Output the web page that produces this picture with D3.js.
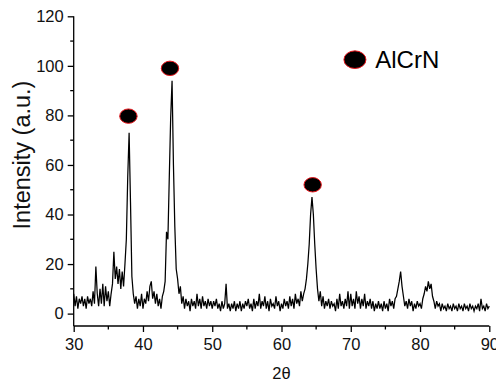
<!DOCTYPE html>
<html>
<head>
<meta charset="utf-8">
<script src="https://cdn.jsdelivr.net/npm/d3@7"></script>
<style>
    html, body { margin: 0; padding: 0; background: #fff; }
    svg { display: block; font-family: "Liberation Sans", Arial, sans-serif; }
</style>
</head>
<body>
<div id="chart"></div>
<script>
// XRD scan: 2θ from 30 to 90 in 0.2° steps, intensity
const scanStart = 30;
const scanStep = 0.2;
const intensity = [
    8, 3, 7, 2, 6, 4, 7, 3, 6, 2,          // 30.0 - 31.8
    7, 4, 6, 3, 9, 4, 19, 8, 3, 10,        // 32.0 - 33.8
    4, 12, 3, 11, 5, 9, 3, 8, 12, 25,      // 34.0 - 35.8
    14, 19, 12, 18, 10, 17, 11, 20, 30, 55, // 36.0 - 37.8
    73, 45, 15, 8, 4, 7, 2, 6, 3, 8,       // 38.0 - 39.8
    2, 6, 4, 9, 5, 11, 13, 6, 9, 4,        // 40.0 - 41.8
    8, 3, 6, 2, 7, 9, 13, 33, 30, 55,      // 42.0 - 43.8
    79, 94, 60, 35, 18, 14, 8, 11, 4, 7,   // 44.0 - 45.8
    2, 6, 3, 5, 1, 6, 3, 5, 2, 8,          // 46.0 - 47.8
    3, 6, 2, 7, 3, 5, 2, 6, 3, 5,          // 48.0 - 49.8
    2, 5, 3, 6, 2, 4, 1, 5, 2, 4,          // 50.0 - 51.8
    12, 2, 4, 1, 4, 2, 5, 1, 4, 2,         // 52.0 - 53.8
    5, 1, 4, 2, 5, 3, 6, 2, 4, 1,          // 54.0 - 55.8
    6, 2, 5, 3, 8, 2, 5, 3, 7, 2,          // 56.0 - 57.8
    5, 1, 6, 3, 4, 2, 7, 3, 5, 1,          // 58.0 - 59.8
    4, 2, 6, 3, 5, 2, 7, 3, 6, 2,          // 60.0 - 61.8
    8, 4, 6, 3, 9, 5, 8, 10, 14, 20,       // 62.0 - 63.8
    28, 40, 47, 40, 28, 18, 10, 5, 9, 3,   // 64.0 - 65.8
    7, 2, 5, 3, 6, 2, 5, 3, 4, 1,          // 66.0 - 67.8
    6, 2, 8, 3, 5, 2, 6, 3, 9, 2,          // 68.0 - 69.8
    8, 3, 6, 2, 9, 4, 7, 2, 6, 3,          // 70.0 - 71.8
    8, 2, 5, 3, 6, 2, 5, 1, 4, 2,          // 72.0 - 73.8
    5, 2, 4, 1, 5, 2, 4, 1, 6, 3,          // 74.0 - 75.8
    5, 2, 6, 7, 10, 13, 17, 11, 7, 3,      // 76.0 - 77.8
    5, 2, 6, 3, 5, 1, 4, 2, 5, 3,          // 78.0 - 79.8
    4, 2, 6, 8, 11, 9, 13, 10, 12, 7,      // 80.0 - 81.8
    5, 2, 5, 3, 4, 1, 4, 2, 3, 1,          // 82.0 - 83.8
    4, 2, 3, 1, 4, 2, 3, 1, 4, 2,          // 84.0 - 85.8
    3, 1, 4, 2, 3, 1, 4, 2, 3, 1,          // 86.0 - 87.8
    3, 2, 4, 1, 6, 2, 3, 1, 4, 2,          // 88.0 - 89.8
    3                                      // 90.0
];

// AlCrN peak markers (placed just above each reflection)
const markerAngles = [37.9, 43.9, 64.5];
const markerLevels = [79.7, 99, 52];

// Legend
const legendAngle = 70.6;
const legendLevel = 102.5;
const legendLabel = 'AlCrN';

// Axis ticks
const xTicks = [30, 40, 50, 60, 70, 80, 90];
const xMinorTicks = [35, 45, 55, 65, 75, 85];
const yTicks = [0, 20, 40, 60, 80, 100, 120];
const yMinorTicks = [10, 30, 50, 70, 90, 110];

const data = intensity.map((v, i) => ({ angle: scanStart + i * scanStep, value: v }));

const width = 496;
const height = 382;
const margin = { top: 16.3, right: 6.7, bottom: 56, left: 73.7 };
const innerW = width - margin.left - margin.right;
const innerH = height - margin.top - margin.bottom;

const svg = d3.select('#chart')
    .append('svg')
    .attr('width', width)
    .attr('height', height);

const g = svg.append('g').attr('transform', `translate(${margin.left},${margin.top})`);

const xScale = d3.scaleLinear().domain([30, 90]).range([0, innerW]);
const yScale = d3.scaleLinear().domain([-5, 120]).range([innerH, 0]);

// Pattern trace
const line = d3.line()
    .x(d => xScale(d.angle))
    .y(d => yScale(d.value));

g.append('path')
    .datum(data)
    .attr('d', line)
    .attr('fill', 'none')
    .attr('stroke', '#000')
    .attr('stroke-width', 1.25)
    .attr('stroke-linejoin', 'miter');

// Peak markers
g.selectAll('ellipse.marker')
    .data(markerAngles.map((a, i) => ({ angle: a, value: markerLevels[i] })))
    .enter()
    .append('ellipse')
    .attr('class', 'marker')
    .attr('cx', d => xScale(d.angle))
    .attr('cy', d => yScale(d.value))
    .attr('rx', 8.7)
    .attr('ry', 7.2)
    .attr('fill', '#000')
    .attr('stroke', '#e8141a')
    .attr('stroke-width', 1);

// Legend
g.append('ellipse')
    .attr('cx', xScale(legendAngle))
    .attr('cy', yScale(legendLevel))
    .attr('rx', 11)
    .attr('ry', 8.8)
    .attr('fill', '#000')
    .attr('stroke', '#e8141a')
    .attr('stroke-width', 1);

g.append('text')
    .attr('x', xScale(legendAngle) + 20.3)
    .attr('y', yScale(legendLevel) + 8.8)
    .attr('font-size', '24px')
    .attr('fill', '#000')
    .text(legendLabel);

// X axis
const xAxis = g.append('g')
    .attr('transform', `translate(0,${innerH})`)
    .call(d3.axisBottom(xScale).tickValues(xTicks).tickSize(6).tickPadding(6).tickFormat(d3.format('d')));

xAxis.append('g')
    .selectAll('line')
    .data(xMinorTicks)
    .enter()
    .append('line')
    .attr('x1', d => xScale(d))
    .attr('x2', d => xScale(d))
    .attr('y1', 0)
    .attr('y2', 3.5);

// Y axis
const yAxis = g.append('g')
    .call(d3.axisLeft(yScale).tickValues(yTicks).tickSize(6).tickPadding(4).tickFormat(d3.format('d')));

yAxis.append('g')
    .selectAll('line')
    .data(yMinorTicks)
    .enter()
    .append('line')
    .attr('x1', 0)
    .attr('x2', -3.5)
    .attr('y1', d => yScale(d))
    .attr('y2', d => yScale(d));

// Plain axis lines, no end caps
svg.selectAll('.domain').remove();
xAxis.append('line').attr('x1', 0).attr('x2', innerW).attr('y1', 0).attr('y2', 0);
yAxis.append('line').attr('x1', 0).attr('x2', 0).attr('y1', yScale(120)).attr('y2', innerH);

svg.selectAll('.tick line, g > line').attr('stroke', '#000').attr('stroke-width', 1.3);
svg.selectAll('.tick text')
    .attr('fill', '#111')
    .style('font-size', '16.5px')
    .style('font-family', '"Liberation Sans", Arial, sans-serif');

// Axis titles
svg.append('text')
    .attr('x', margin.left + innerW / 2)
    .attr('y', 379)
    .attr('text-anchor', 'middle')
    .attr('font-size', '16.5px')
    .attr('fill', '#111')
    .text('2θ');

svg.append('text')
    .attr('transform', 'translate(30,155) rotate(-90)')
    .attr('text-anchor', 'middle')
    .attr('font-size', '23.5px')
    .attr('fill', '#111')
    .text('Intensity (a.u.)');
</script>
</body>
</html>
